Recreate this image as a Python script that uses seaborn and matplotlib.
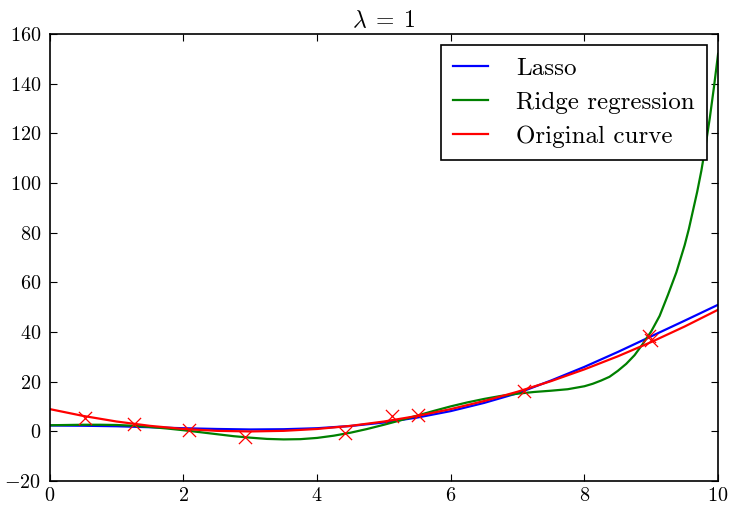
"""
Lasso vs ridge regression fit of a noisy quadratic, lambda = 1.
"""
import numpy as np
import matplotlib
matplotlib.use('Agg')
import matplotlib.pyplot as plt
import seaborn as sns

# Curves
x_half = [0, 0.5, 1, 1.5, 2, 2.5, 3, 3.5, 4, 4.5, 5,
          5.5, 6, 6.5, 7, 7.5, 8, 8.5, 9, 9.5, 10]
lasso_y = [2.4, 2.3, 2.1, 1.7, 1.3, 1.0, 0.8, 0.9, 1.3, 2.2, 3.6,
           5.6, 8.2, 11.5, 15.4, 20.5, 26.0, 32.0, 38.3, 44.6, 51.0]
original_y = [9, 6.25, 4, 2.25, 1, 0.25, 0, 0.25, 1, 2.25, 4,
              6.25, 9, 12.25, 16, 20.25, 25, 30.25, 36, 42.25, 49]

ridge_x = [0, 0.25, 0.5, 0.75, 1, 1.25, 1.5, 1.75, 2, 2.25, 2.5, 2.75,
           3, 3.25, 3.5, 3.75, 4, 4.25, 4.5, 4.75, 5, 5.25, 5.5, 5.75,
           6, 6.25, 6.5, 6.75, 7, 7.25, 7.5, 7.75,
           8, 8.125, 8.25, 8.375, 8.5, 8.625, 8.75, 8.875,
           9, 9.125, 9.25, 9.375, 9.5, 9.5625, 9.625, 9.6875,
           9.75, 9.8125, 9.875, 9.9375, 10]
ridge_y = [2.5, 2.6, 2.7, 2.7, 2.6, 2.3, 1.8, 1.2, 0.5, -0.3, -1.1, -1.9,
           -2.5, -3.0, -3.2, -3.1, -2.6, -1.7, -0.5, 1.0, 2.7, 4.5, 6.4, 8.3,
           10.1, 11.7, 13.1, 14.3, 15.2, 15.9, 16.4, 17.0,
           18.2, 19.2, 20.5, 22.0, 24.4, 27.2, 30.7, 35.3,
           40.3, 46.5, 55.0, 64.0, 75.0, 81.5, 89.0, 96.5,
           105.0, 115.0, 126.0, 138.5, 152.0]

# Noisy samples
sample_x = [0.52, 1.26, 2.08, 2.92, 4.42, 5.12, 5.51, 7.09, 8.97, 9.0]
sample_y = [5.4, 2.9, 0.5, -2.3, -0.8, 6.2, 6.6, 16.2, 38.4, 36.8]

plt.rcParams.update({
    'font.family': 'serif',
    'font.serif': ['cmr10'],
    'mathtext.fontset': 'cm',
    'axes.formatter.use_mathtext': True,
    'font.size': 14.5,
    'axes.linewidth': 1.2,
    'xtick.direction': 'in',
    'ytick.direction': 'in',
    'xtick.top': True,
    'ytick.right': True,
    'xtick.major.size': 5,
    'ytick.major.size': 5,
    'xtick.major.pad': 4,
    'ytick.major.pad': 6,
})

fig = plt.figure(figsize=(7.32, 5.07), dpi=100)
ax = fig.add_axes([0.068, 0.051, 0.913, 0.882])

sns.lineplot(x=x_half, y=lasso_y, ax=ax, color='b', lw=1.6, label='Lasso')
sns.lineplot(x=ridge_x, y=ridge_y, ax=ax, color='g', lw=1.6, label='Ridge regression')
sns.lineplot(x=x_half, y=original_y, ax=ax, color='r', lw=1.6, label='Original curve')
sns.scatterplot(x=sample_x, y=sample_y, ax=ax, marker='x', color='r',
                s=90, linewidth=0.9, zorder=5)

ax.set_xlim(0, 10)
ax.set_ylim(-20, 160)
ax.set_xticks(np.arange(0, 11, 2))
ax.set_yticks(np.arange(-20, 161, 20))
ax.set_title(r'$\lambda \;=\; 1$', fontsize=17, pad=5)

leg = ax.legend(loc='upper right', fancybox=False, framealpha=1, edgecolor='k',
                fontsize=18, handlelength=1.4, borderaxespad=0.45,
                borderpad=0.5, labelspacing=0.45, handletextpad=1.1)
leg.get_frame().set_linewidth(1.2)

fig.savefig('out.png', dpi=100)
